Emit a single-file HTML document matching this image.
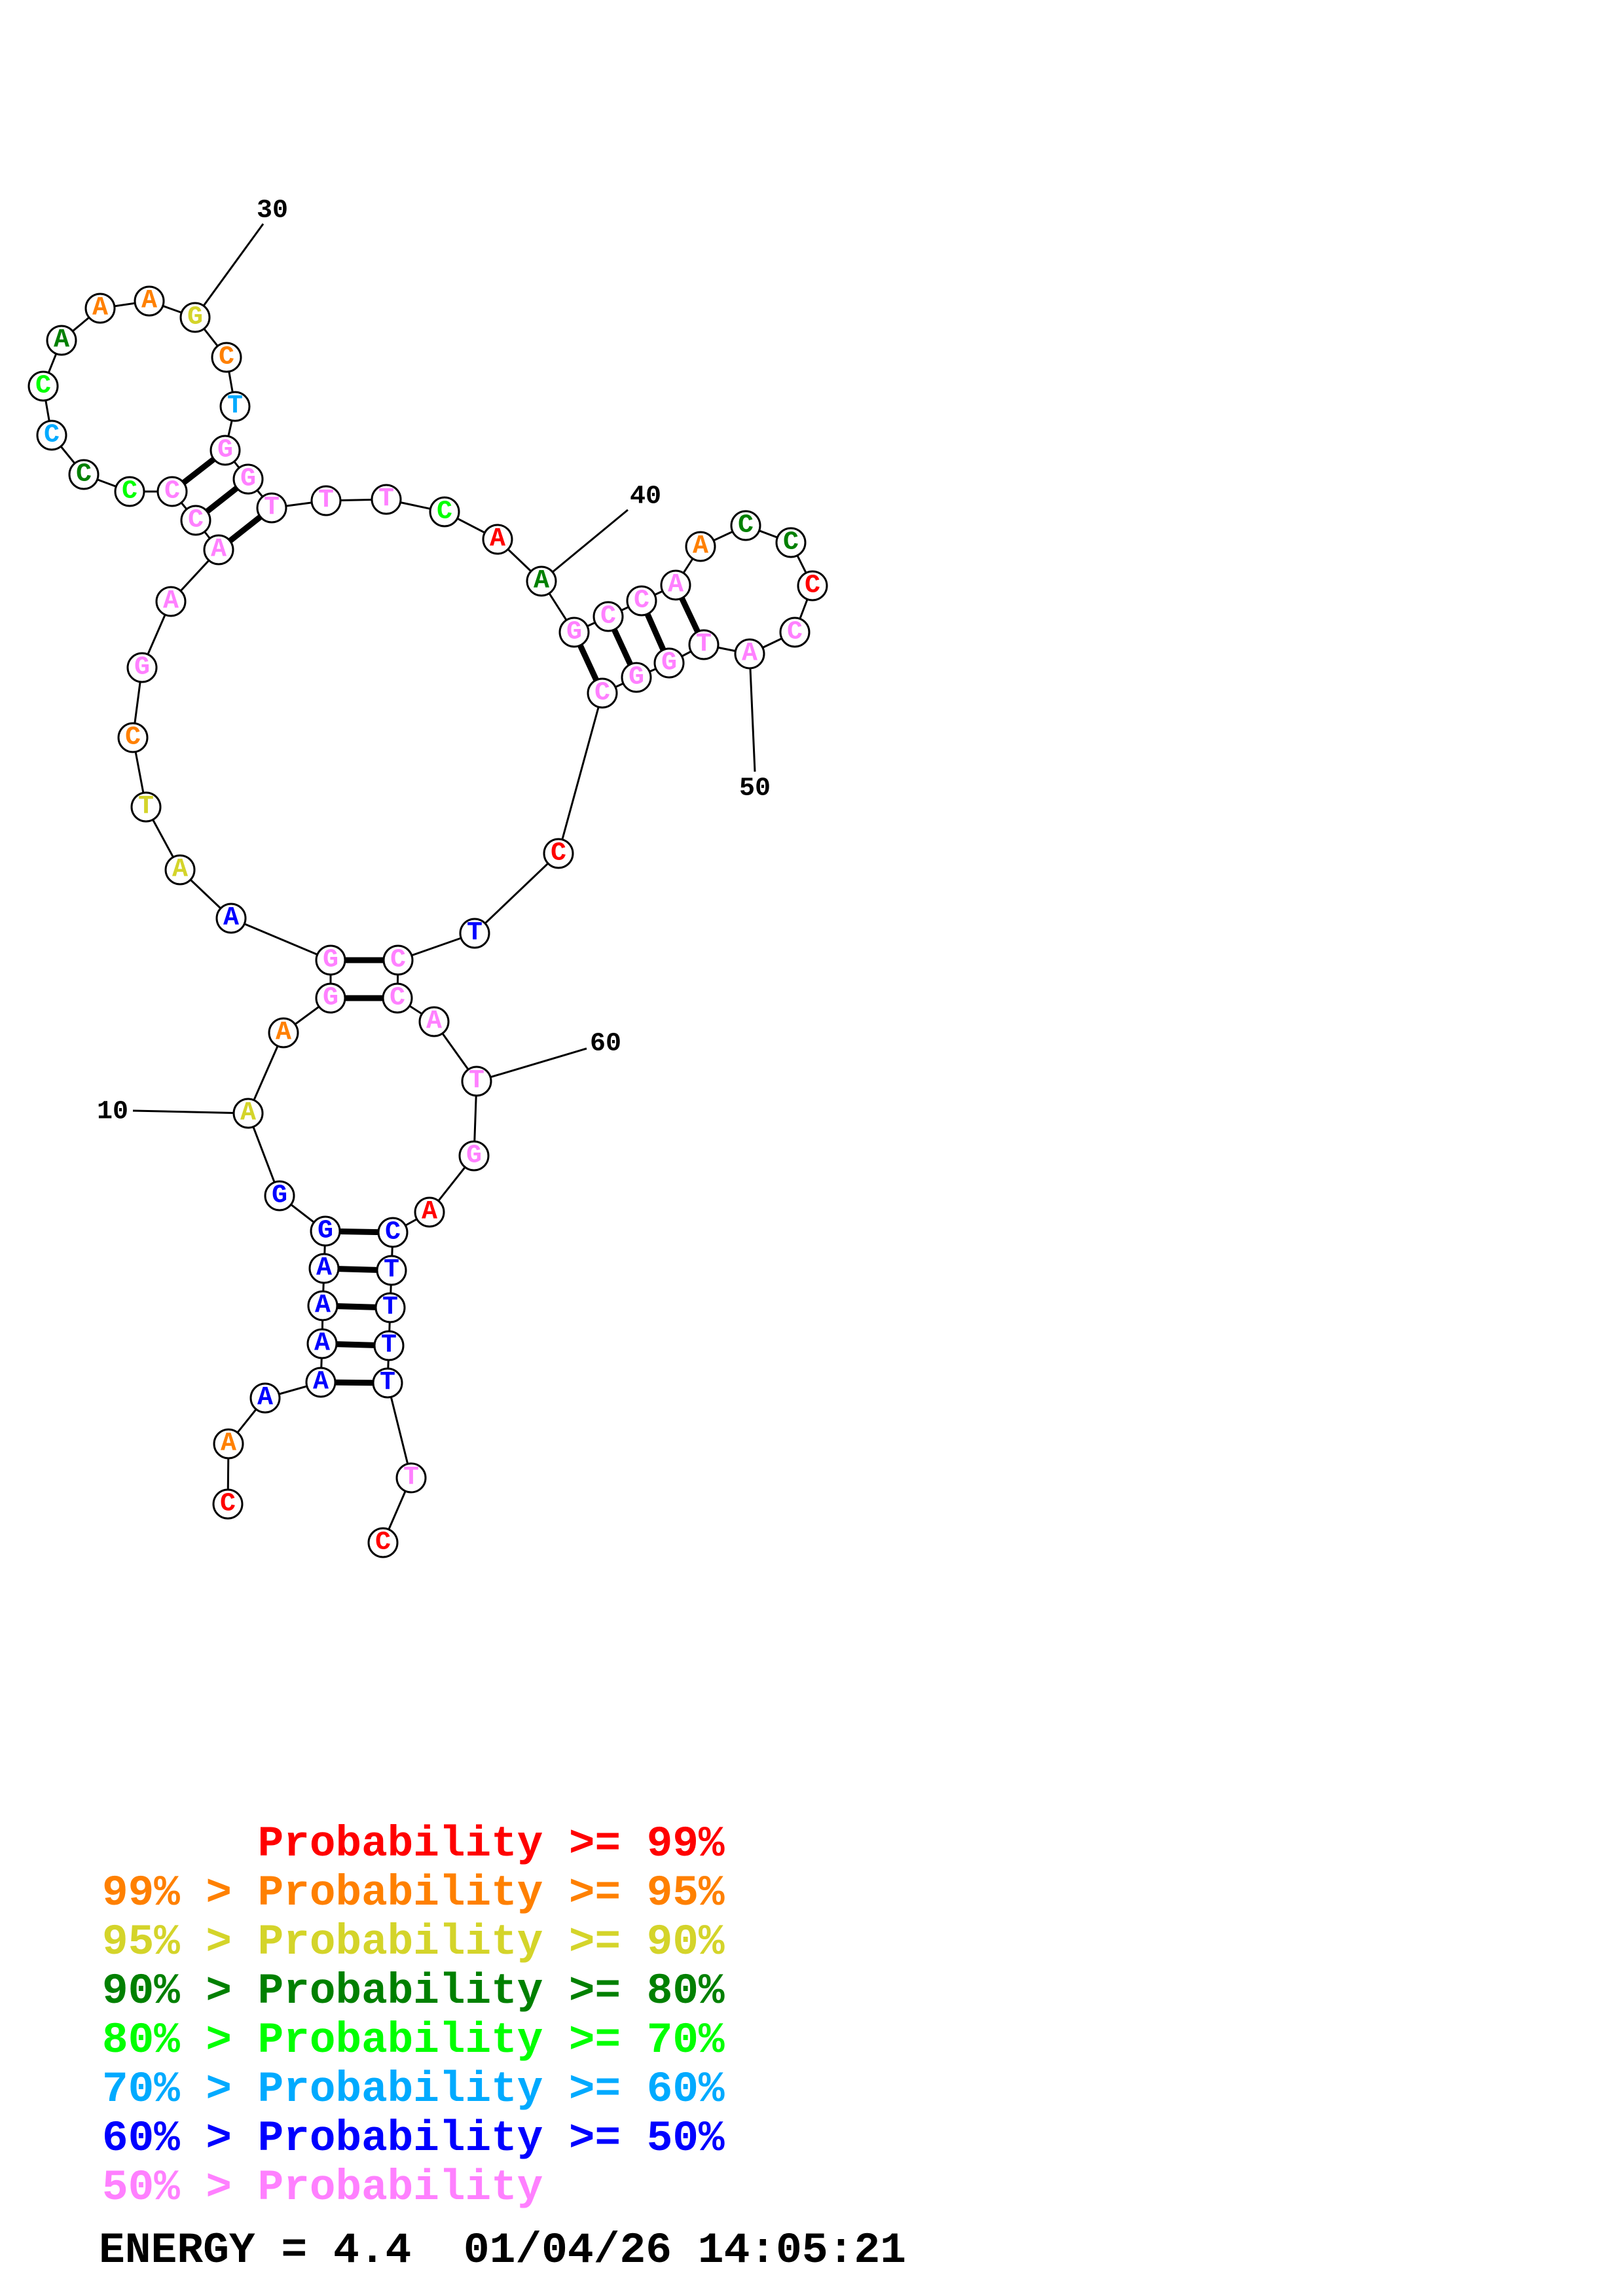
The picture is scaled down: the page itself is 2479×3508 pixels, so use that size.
<!DOCTYPE html>
<html><head><meta charset="utf-8"><style>
html,body{margin:0;padding:0;background:#fff;}
svg{display:block;}
.n circle{fill:#fff;stroke:#000;stroke-width:3;}
.n text{font-family:"Liberation Mono",monospace;font-weight:bold;font-size:40px;text-anchor:middle;dominant-baseline:central;}
.lab{font-family:"Liberation Mono",monospace;font-weight:bold;font-size:40px;text-anchor:middle;dominant-baseline:central;fill:#000;}
.lg{font-family:"Liberation Mono",monospace;font-weight:bold;font-size:66px;white-space:pre;}
</style></head><body>
<svg width="2479" height="3508" viewBox="0 0 2479 3508" xmlns="http://www.w3.org/2000/svg">
<g stroke="#000" stroke-width="3" fill="none">
<polyline points="348,2298 349,2206 405,2136 490,2112 492,2053 493,1995 495,1938 497,1881 427,1827 379,1701 433,1578 505,1525 505,1467 353,1403 275,1329 223,1233 203,1127 217,1020 261,919 334,840 299,795 263,751 198,751 128,725 79,665 66,590 94,520 153,471 228,460 298,485 346,546 359,621 344,688 379,732 415,776 498,765 590,763 679,782 760,824 827,888 877,966 929,942 980,918 1032,894 1070,835 1139,803 1208,829 1241,895 1214,966 1145,999 1075,985 1022,1013 972,1035 920,1059 853,1304 725,1426 608,1467 607,1525 663,1561 728,1652 724,1766 656,1852 600,1883 598,1941 596,1998 594,2056 592,2113 628,2258 585,2357"/>
<line x1="203" y1="1697" x2="379" y2="1701"/>
<line x1="402" y1="342" x2="298" y2="485"/>
<line x1="959" y1="779" x2="827" y2="888"/>
<line x1="1153" y1="1179" x2="1145" y2="999"/>
<line x1="896" y1="1602" x2="728" y2="1652"/>
</g>
<g stroke="#000" stroke-width="9">
<line x1="490" y1="2112" x2="592" y2="2113"/>
<line x1="492" y1="2053" x2="594" y2="2056"/>
<line x1="493" y1="1995" x2="596" y2="1998"/>
<line x1="495" y1="1938" x2="598" y2="1941"/>
<line x1="497" y1="1881" x2="600" y2="1883"/>
<line x1="505" y1="1525" x2="607" y2="1525"/>
<line x1="505" y1="1467" x2="608" y2="1467"/>
<line x1="334" y1="840" x2="415" y2="776"/>
<line x1="299" y1="795" x2="379" y2="732"/>
<line x1="263" y1="751" x2="344" y2="688"/>
<line x1="877" y1="966" x2="920" y2="1059"/>
<line x1="929" y1="942" x2="972" y2="1035"/>
<line x1="980" y1="918" x2="1022" y2="1013"/>
<line x1="1032" y1="894" x2="1075" y2="985"/>
</g>
<g class="n">
<g transform="translate(348,2298)"><circle r="22"/><text fill="#f00">C</text></g>
<g transform="translate(349,2206)"><circle r="22"/><text fill="#ff8000">A</text></g>
<g transform="translate(405,2136)"><circle r="22"/><text fill="#00f">A</text></g>
<g transform="translate(490,2112)"><circle r="22"/><text fill="#00f">A</text></g>
<g transform="translate(492,2053)"><circle r="22"/><text fill="#00f">A</text></g>
<g transform="translate(493,1995)"><circle r="22"/><text fill="#00f">A</text></g>
<g transform="translate(495,1938)"><circle r="22"/><text fill="#00f">A</text></g>
<g transform="translate(497,1881)"><circle r="22"/><text fill="#00f">G</text></g>
<g transform="translate(427,1827)"><circle r="22"/><text fill="#00f">G</text></g>
<g transform="translate(379,1701)"><circle r="22"/><text fill="#d4d42a">A</text></g>
<g transform="translate(433,1578)"><circle r="22"/><text fill="#ff8000">A</text></g>
<g transform="translate(505,1525)"><circle r="22"/><text fill="#ff80ff">G</text></g>
<g transform="translate(505,1467)"><circle r="22"/><text fill="#ff80ff">G</text></g>
<g transform="translate(353,1403)"><circle r="22"/><text fill="#00f">A</text></g>
<g transform="translate(275,1329)"><circle r="22"/><text fill="#d4d42a">A</text></g>
<g transform="translate(223,1233)"><circle r="22"/><text fill="#d4d42a">T</text></g>
<g transform="translate(203,1127)"><circle r="22"/><text fill="#ff8000">C</text></g>
<g transform="translate(217,1020)"><circle r="22"/><text fill="#ff80ff">G</text></g>
<g transform="translate(261,919)"><circle r="22"/><text fill="#ff80ff">A</text></g>
<g transform="translate(334,840)"><circle r="22"/><text fill="#ff80ff">A</text></g>
<g transform="translate(299,795)"><circle r="22"/><text fill="#ff80ff">C</text></g>
<g transform="translate(263,751)"><circle r="22"/><text fill="#ff80ff">C</text></g>
<g transform="translate(198,751)"><circle r="22"/><text fill="#0f0">C</text></g>
<g transform="translate(128,725)"><circle r="22"/><text fill="#008000">C</text></g>
<g transform="translate(79,665)"><circle r="22"/><text fill="#00aaff">C</text></g>
<g transform="translate(66,590)"><circle r="22"/><text fill="#0f0">C</text></g>
<g transform="translate(94,520)"><circle r="22"/><text fill="#008000">A</text></g>
<g transform="translate(153,471)"><circle r="22"/><text fill="#ff8000">A</text></g>
<g transform="translate(228,460)"><circle r="22"/><text fill="#ff8000">A</text></g>
<g transform="translate(298,485)"><circle r="22"/><text fill="#d4d42a">G</text></g>
<g transform="translate(346,546)"><circle r="22"/><text fill="#ff8000">C</text></g>
<g transform="translate(359,621)"><circle r="22"/><text fill="#00aaff">T</text></g>
<g transform="translate(344,688)"><circle r="22"/><text fill="#ff80ff">G</text></g>
<g transform="translate(379,732)"><circle r="22"/><text fill="#ff80ff">G</text></g>
<g transform="translate(415,776)"><circle r="22"/><text fill="#ff80ff">T</text></g>
<g transform="translate(498,765)"><circle r="22"/><text fill="#ff80ff">T</text></g>
<g transform="translate(590,763)"><circle r="22"/><text fill="#ff80ff">T</text></g>
<g transform="translate(679,782)"><circle r="22"/><text fill="#0f0">C</text></g>
<g transform="translate(760,824)"><circle r="22"/><text fill="#f00">A</text></g>
<g transform="translate(827,888)"><circle r="22"/><text fill="#008000">A</text></g>
<g transform="translate(877,966)"><circle r="22"/><text fill="#ff80ff">G</text></g>
<g transform="translate(929,942)"><circle r="22"/><text fill="#ff80ff">C</text></g>
<g transform="translate(980,918)"><circle r="22"/><text fill="#ff80ff">C</text></g>
<g transform="translate(1032,894)"><circle r="22"/><text fill="#ff80ff">A</text></g>
<g transform="translate(1070,835)"><circle r="22"/><text fill="#ff8000">A</text></g>
<g transform="translate(1139,803)"><circle r="22"/><text fill="#008000">C</text></g>
<g transform="translate(1208,829)"><circle r="22"/><text fill="#008000">C</text></g>
<g transform="translate(1241,895)"><circle r="22"/><text fill="#f00">C</text></g>
<g transform="translate(1214,966)"><circle r="22"/><text fill="#ff80ff">C</text></g>
<g transform="translate(1145,999)"><circle r="22"/><text fill="#ff80ff">A</text></g>
<g transform="translate(1075,985)"><circle r="22"/><text fill="#ff80ff">T</text></g>
<g transform="translate(1022,1013)"><circle r="22"/><text fill="#ff80ff">G</text></g>
<g transform="translate(972,1035)"><circle r="22"/><text fill="#ff80ff">G</text></g>
<g transform="translate(920,1059)"><circle r="22"/><text fill="#ff80ff">C</text></g>
<g transform="translate(853,1304)"><circle r="22"/><text fill="#f00">C</text></g>
<g transform="translate(725,1426)"><circle r="22"/><text fill="#00f">T</text></g>
<g transform="translate(608,1467)"><circle r="22"/><text fill="#ff80ff">C</text></g>
<g transform="translate(607,1525)"><circle r="22"/><text fill="#ff80ff">C</text></g>
<g transform="translate(663,1561)"><circle r="22"/><text fill="#ff80ff">A</text></g>
<g transform="translate(728,1652)"><circle r="22"/><text fill="#ff80ff">T</text></g>
<g transform="translate(724,1766)"><circle r="22"/><text fill="#ff80ff">G</text></g>
<g transform="translate(656,1852)"><circle r="22"/><text fill="#f00">A</text></g>
<g transform="translate(600,1883)"><circle r="22"/><text fill="#00f">C</text></g>
<g transform="translate(598,1941)"><circle r="22"/><text fill="#00f">T</text></g>
<g transform="translate(596,1998)"><circle r="22"/><text fill="#00f">T</text></g>
<g transform="translate(594,2056)"><circle r="22"/><text fill="#00f">T</text></g>
<g transform="translate(592,2113)"><circle r="22"/><text fill="#00f">T</text></g>
<g transform="translate(628,2258)"><circle r="22"/><text fill="#ff80ff">T</text></g>
<g transform="translate(585,2357)"><circle r="22"/><text fill="#f00">C</text></g>
</g>
<text class="lab" x="172" y="1699">10</text>
<text class="lab" x="416" y="322">30</text>
<text class="lab" x="986" y="759">40</text>
<text class="lab" x="1153" y="1205">50</text>
<text class="lab" x="925" y="1595">60</text>
<text class="lg" x="156" y="2835" fill="#f00">      Probability &gt;= 99%</text>
<text class="lg" x="156" y="2910" fill="#ff8000">99% &gt; Probability &gt;= 95%</text>
<text class="lg" x="156" y="2985" fill="#d4d42a">95% &gt; Probability &gt;= 90%</text>
<text class="lg" x="156" y="3060" fill="#008000">90% &gt; Probability &gt;= 80%</text>
<text class="lg" x="156" y="3135" fill="#0f0">80% &gt; Probability &gt;= 70%</text>
<text class="lg" x="156" y="3210" fill="#00aaff">70% &gt; Probability &gt;= 60%</text>
<text class="lg" x="156" y="3285" fill="#00f">60% &gt; Probability &gt;= 50%</text>
<text class="lg" x="156" y="3360" fill="#ff80ff">50% &gt; Probability</text>
<text class="lg" x="151" y="3456" fill="#000" textLength="1233" lengthAdjust="spacingAndGlyphs">ENERGY = 4.4  01/04/26 14:05:21</text>
</svg>
</body></html>
